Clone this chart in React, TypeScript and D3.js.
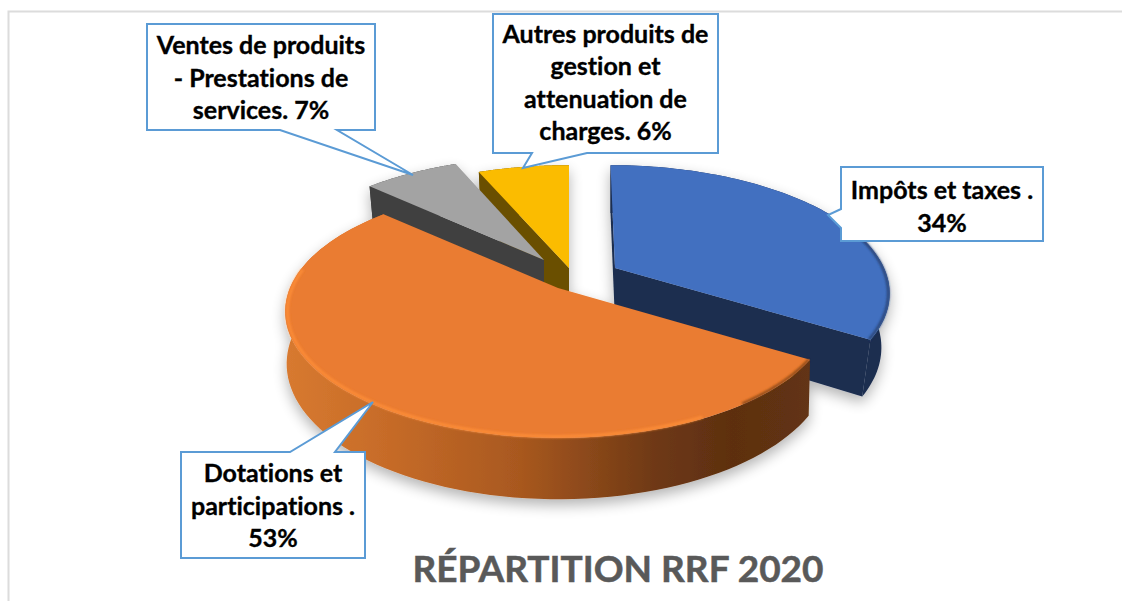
import React from "react";
import * as d3 from "d3";

// ---- data
const categories = ["Impôts et taxes", "Dotations et participations", "Ventes de produits - Prestations de services", "Autres produits de gestion et attenuation de charges"];
const shares = [33.9, 53.0, 6.8, 6.3];
const titleText = "RÉPARTITION RRF 2020";
const labelLines = [
  ["Impôts et taxes .", "34%"],
  ["Dotations et", "participations .", "53%"],
  ["Ventes de produits", "- Prestations de", "services. 7%"],
  ["Autres produits de", "gestion et", "attenuation de", "charges. 6%"],
];

// ---- styling / layout
const topColors = ["#4270c0", "#ea7b30", "#a3a3a3", "#fbbc00"];
const wallColors = ["#1b2d50", "url(#orangeWall)", "#404040", "#6b4f00"];
const cutColors = ["#1b2d50", "#5f3212", "#404040", "#6b4f00"];
const apexX = [615, 558, 544, 569];
const apexY = [268, 288, 260, 268];
const radiusX = [269, 268, 268, 274];
const leanX = [4.5, 0, 0, 0];
const depthY = [55, 51, 55, 55];
const depthPersp = [0.03, 0.005, 0.03, 0.03];
const RY = 122, PERSP = 0.186;

const boxes = [
  { x0: 841, y0: 167, x1: 1043, y1: 241, tail: [[841, 228], [828, 215], [841, 209]], ty: 199 },
  { x0: 181, y0: 452, x1: 365, y1: 558, tail: [[335, 452], [373, 402], [290, 452]], ty: 482 },
  { x0: 147, y0: 24, x1: 375, y1: 130, tail: [[337, 130], [413, 175], [280, 130]], ty: 54 },
  { x0: 493, y0: 14, x1: 718, y1: 153, tail: [[587, 153], [523, 168], [532, 153]], ty: 42.5 },
];

const pie = d3.pie<number>().sort(null).startAngle(0).endAngle(2 * Math.PI);
const arcs = pie(shares);
const lineGen = d3.line<[number, number]>().curve(d3.curveLinear);

function project(i: number, theta: number, bottom: boolean, r = 1): [number, number] {
  const u = Math.sin(theta) * r;
  const v = -Math.cos(theta) * r;
  const denom = 1 - PERSP * v + (bottom ? depthPersp[i] : 0);
  return [apexX[i] + (radiusX[i] * u) / denom + leanX[i] * v, apexY[i] + (RY * v + (bottom ? depthY[i] : 0)) / denom];
}
function rim(i: number, bottom: boolean, r = 1, from?: number, to?: number): [number, number][] {
  const a0 = from ?? arcs[i].startAngle;
  const a1 = to ?? arcs[i].endAngle;
  const scale = d3.scaleLinear().domain([0, 90]).range([a0, a1]);
  return d3.range(0, 91).map((k) => project(i, scale(k), bottom, r));
}
function closed(pts: [number, number][]) {
  return lineGen(pts) + "Z";
}
function topPath(i: number) {
  return closed([project(i, 0, false, 0), ...rim(i, false)]);
}
function outerWall(i: number, from?: number, to?: number) {
  return closed([...rim(i, false, 1, from, to), ...rim(i, true, 1, from, to).reverse()]);
}
function cutWall(i: number, theta: number) {
  return closed([project(i, 0, false, 0), project(i, theta, false), project(i, theta, true), project(i, 0, true, 0)]);
}

function Slice({ i }: { i: number }) {
  const a = arcs[i];
  return (
    <g>
      {i === 0 && <path d={cutWall(i, a.startAngle)} fill={cutColors[i]} />}
      {i === 0 && <path d={cutWall(i, a.endAngle)} fill={cutColors[i]} />}
      {i === 2 && <path d={cutWall(i, a.startAngle)} fill={cutColors[i]} />}
      {i === 3 && <path d={cutWall(i, a.startAngle)} fill={cutColors[i]} />}
      <path d={outerWall(i)} fill={wallColors[i]} />
      <path d={topPath(i)} fill={topColors[i]} />
    </g>
  );
}

function Callout({ i }: { i: number }) {
  const b = boxes[i];
  const { x0, y0, x1, y1, tail } = b;
  let pts: number[][];
  if (i === 0) pts = [[x0, y0], [x1, y0], [x1, y1], [x0, y1], ...tail];
  else if (i === 1) pts = [[x0, y0], [tail[2][0], y0], tail[1], [tail[0][0], y0], [x1, y0], [x1, y1], [x0, y1]];
  else pts = [[x0, y0], [x1, y0], [x1, y1], ...tail, [x0, y1]];
  const cx = (x0 + x1) / 2;
  return (
    <g>
      <path d={lineGen(pts as [number, number][]) + "Z"} fill="#fff" stroke="#5b9bd5" strokeWidth={2} />
      {labelLines[i].map((t, k) => (
        <text key={k} x={cx} y={b.ty + k * 32.6} textAnchor="middle" fontFamily="Lato, 'Open Sans', sans-serif" fontWeight={700} fontSize={25} fill="#000" stroke="#000" strokeWidth={0.35} style={{ fontVariantLigatures: "none" }}>
          {t}
        </text>
      ))}
    </g>
  );
}

export default function App() {
  return (
    <svg width={1122} height={601} viewBox="0 0 1122 601" style={{ position: "absolute", left: 0, top: 0, display: "block", background: "#fff" }}>
      <title>{categories.join(", ")}</title>
      <defs>
        <linearGradient id="orangeWall" gradientUnits="userSpaceOnUse" x1={283} x2={812} y1={0} y2={0}>
          <stop offset="0" stopColor="#d87a30" />
          <stop offset="0.2" stopColor="#c66b28" />
          <stop offset="0.45" stopColor="#a8581f" />
          <stop offset="0.7" stopColor="#6f3915" />
          <stop offset="0.85" stopColor="#5d2f10" />
          <stop offset="1" stopColor="#633413" />
        </linearGradient>
        <filter id="softShadow" filterUnits="userSpaceOnUse" x={200} y={100} width={800} height={480}>
          <feGaussianBlur in="SourceAlpha" stdDeviation={7} />
          <feOffset dy={6} />
          <feComponentTransfer>
            <feFuncA type="linear" slope={0.3} />
          </feComponentTransfer>
          <feMerge>
            <feMergeNode />
            <feMergeNode in="SourceGraphic" />
          </feMerge>
        </filter>
        <filter id="blur1" x="-10%" y="-10%" width="120%" height="120%">
          <feGaussianBlur stdDeviation={1} />
        </filter>
      </defs>

      {/* chart frame */}
      <path d="M1122,11.5 H8.5 V601" fill="none" stroke="#dcdcdc" strokeWidth={2} />

      <g filter="url(#softShadow)">
        <Slice i={0} />
        <path d={lineGen(rim(0, false, 0.995, 1.15, arcs[0].endAngle))!} fill="none" stroke="#2a4474" strokeWidth={2.5} filter="url(#blur1)" />
        <Slice i={3} />
        <Slice i={2} />
        <Slice i={1} />
        <path d={lineGen(rim(1, false, 0.992, 0.85 * Math.PI, 1.55 * Math.PI))!} fill="none" stroke="#fb8c38" strokeWidth={3} filter="url(#blur1)" />
        <path d={lineGen(rim(1, false, 0.995, arcs[1].startAngle, 0.8 * Math.PI))!} fill="none" stroke="#7a4018" strokeWidth={2} filter="url(#blur1)" />
      </g>

      {[0, 1, 2, 3].map((i) => (
        <Callout key={i} i={i} />
      ))}

      <text x={618} y={582} textAnchor="middle" fontFamily="Lato, 'Open Sans', sans-serif" fontWeight={700} fontSize={37} fill="#595959" stroke="#595959" strokeWidth={0.5} style={{ fontVariantLigatures: "none" }}>
        {titleText}
      </text>
    </svg>
  );
}
